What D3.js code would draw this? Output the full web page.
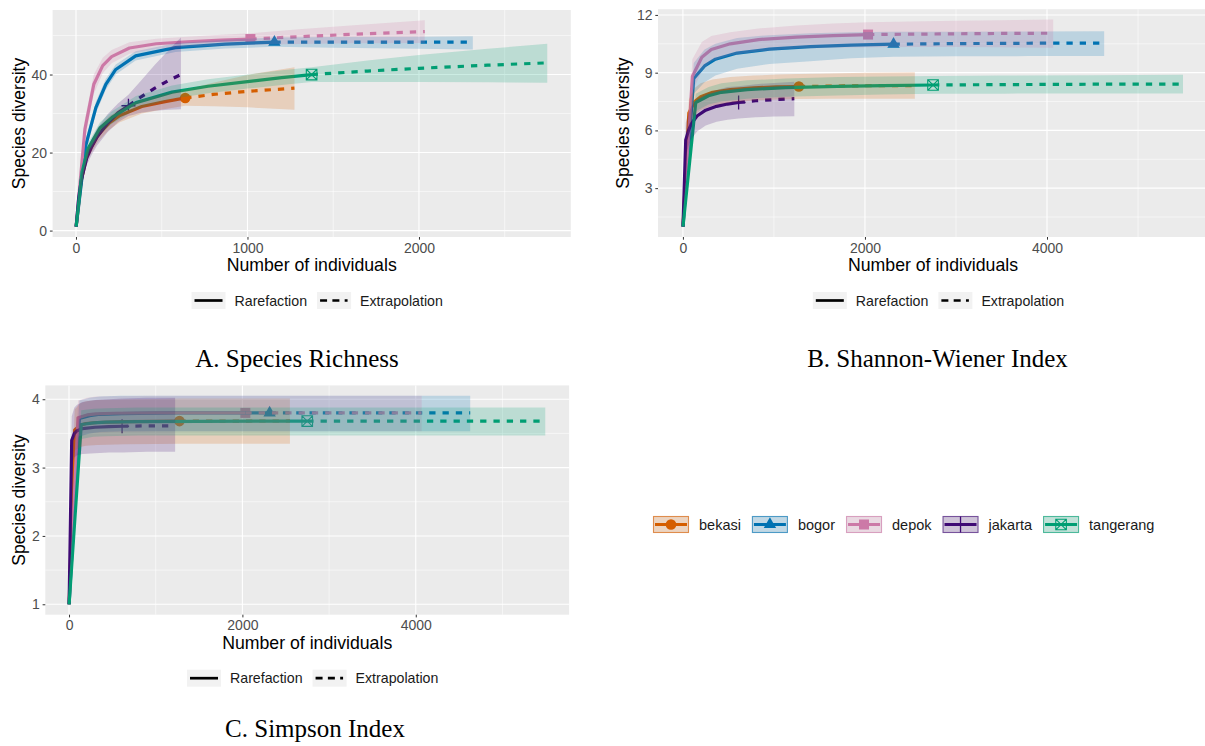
<!DOCTYPE html>
<html><head><meta charset="utf-8">
<script src="https://cdn.jsdelivr.net/npm/d3@7"></script>
<style>body{margin:0;background:#fff}svg{display:block}</style>
</head><body>
<svg id="c" width="1205" height="746"></svg>
<script>
// ---------------- DATA ----------------
const sites = ["bekasi", "bogor", "depok", "jakarta", "tangerang"];
const siteColors = ["#D55E00", "#0072B2", "#CC79A7", "#3F0A75", "#009E73"];
const siteShapes = ["circle", "triangle", "square", "plus", "squarecross"];
const lineTypes = ["Rarefaction", "Extrapolation"];
const panelTitles = ["A. Species Richness", "B. Shannon-Wiener Index", "C. Simpson Index"];
const xAxisTitle = "Number of individuals";
const yAxisTitle = "Species diversity";

// observed sample sizes (reference sample) per panel
const sizeA = [637, 1157, 1017, 306, 1374];
const sizeBC = [1274, 2314, 2034, 612, 2748];

// tick values
const ticksXA = [0, 1000, 2000], minorXA = [500, 1500, 2500];
const ticksYA = [0, 20, 40], minorYA = [10, 30, 50];
const ticksXB = [0, 2000, 4000], minorXB = [1000, 3000, 5000];
const ticksYB = [3, 6, 9, 12], minorYB = [1.5, 4.5, 7.5, 10.5];
const ticksXC = [0, 2000, 4000], minorXC = [1000, 3000, 5000];
const ticksYC = [1, 2, 3, 4], minorYC = [1.5, 2.5, 3.5];

// rows: [m, qD, lower CI, upper CI]
// Panel A: species richness (q = 0)
const richBekasi = [[1,1,1,1],[32,13,11.8,14.2],[64,19.5,18,21],[128,24.5,22.8,26.2],[192,27.5,25.8,29.2],[256,29.5,27.8,31.2],[384,31.8,30,33.6],[512,33,31.1,34.9],[637,34,32,36.1],[800,34.9,31.9,37.9],[1000,35.7,31.6,39.9],[1274,36.5,31,41.9]];
const richBogor = [[1,1,1,1],[58,22,20.3,23.7],[116,31.5,30,33],[174,37.5,36.1,38.9],[232,41.3,40,42.6],[348,44.8,43.6,46],[580,46.9,45.8,48],[870,47.8,46.7,48.9],[1157,48.3,47.1,49.5],[1500,48.3,46.9,49.6],[2000,48.3,46.6,49.7],[2314,48.3,46.4,49.8]];
const richDepok = [[1,1,1,1],[52,26,23.5,28.5],[104,37.5,35,40],[156,42.3,40.3,44.3],[208,44.6,42.9,46.3],[312,46.8,45.3,48.3],[468,47.9,46.6,49.2],[650,48.4,47.1,49.7],[850,48.8,47.4,50.2],[1017,49.1,47.6,50.6],[1300,49.7,47.8,51.6],[1600,50.3,48,52.6],[2034,51,48.1,53.9]];
const richJakarta = [[1,1,1,1],[16,8.5,7.3,9.7],[31,13,11.5,14.5],[62,18.5,16.7,20.3],[92,21.5,19.5,23.5],[123,24,21.8,26.2],[184,27.5,25.2,29.8],[245,30.2,27.8,32.6],[306,32,29.4,34.8],[380,34.3,30.2,38.5],[460,36.5,30.7,42.5],[540,38.5,31,46.2],[612,40,31.1,49.5]];
const richTangerang = [[1,1,1,1],[35,15,13.8,16.2],[70,21,19.6,22.4],[140,26.3,24.8,27.8],[210,29,27.4,30.6],[350,32.8,31.1,34.5],[560,35.5,33.8,37.2],[770,37,35.2,38.8],[1000,38.2,36.4,40],[1200,39.2,37.3,41.1],[1374,40,38.1,41.9],[1700,40.9,38.1,43.6],[2000,41.6,38.1,45],[2400,42.4,38,46.6],[2748,43,37.9,47.9]];

// Panel B: Shannon-Wiener (q = 1)
const shanBekasi = [[1,1,1,1],[65,6.9,6.2,7.6],[130,7.5,6.8,8.2],[195,7.75,7.05,8.45],[325,7.98,7.3,8.65],[520,8.12,7.45,8.78],[780,8.21,7.55,8.85],[1030,8.26,7.6,8.9],[1274,8.28,7.63,8.93],[1600,8.3,7.64,8.96],[2000,8.32,7.65,9.0],[2548,8.33,7.65,9.02]];
const shanBogor = [[1,1,1,1],[119,8.7,7.9,9.5],[238,9.35,8.5,10.2],[357,9.7,8.85,10.5],[595,10.02,9.2,10.8],[950,10.22,9.45,10.95],[1400,10.35,9.6,11.05],[1850,10.43,9.75,11.1],[2314,10.48,9.83,11.12],[3000,10.51,9.85,11.13],[3800,10.53,9.86,11.14],[4628,10.54,9.86,11.15]];
const shanDepok = [[1,1,1,1],[104,8.8,8.0,9.7],[208,9.8,9.1,10.6],[312,10.2,9.6,10.9],[520,10.5,9.9,11.1],[830,10.72,10.1,11.3],[1250,10.85,10.25,11.45],[1650,10.93,10.3,11.55],[2034,10.98,10.32,11.62],[2500,11.0,10.33,11.66],[3000,11.02,10.33,11.7],[3500,11.04,10.32,11.73],[4068,11.05,10.3,11.76]];
const shanJakarta = [[1,1,1,1],[31,5.5,4.6,6.4],[62,6.0,5.2,6.9],[93,6.35,5.55,7.25],[155,6.75,5.95,7.65],[250,7.05,6.25,7.9],[370,7.25,6.45,8.1],[490,7.37,6.55,8.25],[612,7.45,6.62,8.3],[800,7.54,6.68,8.4],[1000,7.6,6.72,8.47],[1224,7.65,6.74,8.53]];
const shanTangerang = [[1,1,1,1],[141,7.45,7.0,7.9],[282,7.8,7.35,8.25],[423,7.98,7.5,8.45],[705,8.12,7.65,8.6],[1130,8.22,7.75,8.7],[1700,8.29,7.82,8.77],[2200,8.33,7.87,8.8],[2748,8.36,7.9,8.83],[3500,8.38,7.91,8.85],[4500,8.4,7.92,8.87],[5494,8.41,7.92,8.89]];

// Panel C: Simpson (q = 2)
const simpBekasi = [[1,1,1,1],[65,3.55,3.25,3.85],[130,3.62,3.3,3.94],[195,3.645,3.32,3.97],[325,3.66,3.33,3.99],[650,3.672,3.34,4.0],[1000,3.677,3.345,4.005],[1274,3.68,3.35,4.01],[1900,3.681,3.35,4.01],[2548,3.682,3.35,4.01]];
const simpBogor = [[1,1,1,1],[119,3.72,3.45,3.98],[238,3.76,3.5,4.02],[357,3.78,3.52,4.04],[600,3.79,3.53,4.05],[1200,3.8,3.53,4.05],[2314,3.8,3.53,4.05],[3500,3.8,3.53,4.05],[4628,3.8,3.53,4.05]];
const simpDepok = [[1,1,1,1],[104,3.73,3.45,3.98],[208,3.77,3.5,4.02],[312,3.785,3.51,4.04],[520,3.795,3.52,4.045],[1000,3.8,3.53,4.05],[2034,3.8,3.53,4.05],[3000,3.8,3.53,4.05],[4068,3.8,3.53,4.05]];
const simpJakarta = [[1,1,1,1],[31,3.4,3.05,3.75],[62,3.5,3.15,3.88],[93,3.54,3.18,3.92],[155,3.57,3.2,3.96],[300,3.59,3.21,3.99],[460,3.6,3.22,4.0],[612,3.605,3.22,4.01],[900,3.61,3.23,4.02],[1224,3.612,3.23,4.02]];
const simpTangerang = [[1,1,1,1],[141,3.63,3.42,3.84],[282,3.655,3.45,3.86],[423,3.665,3.46,3.87],[800,3.672,3.47,3.88],[1500,3.677,3.47,3.88],[2748,3.68,3.47,3.88],[4000,3.68,3.47,3.88],[5494,3.68,3.47,3.88]];

// ---------------- LAYOUT ----------------
const SANS = "'Liberation Sans', Arial, Helvetica, sans-serif";
const SERIF = "'Liberation Serif', 'Times New Roman', serif";

const panels = [
  {id: "A", data: [richBekasi, richBogor, richDepok, richJakarta, richTangerang], sizes: sizeA,
   box: {x0: 52.6, x1: 570.8, y0: 10, y1: 237}, xt: ticksXA, xm: minorXA, yt: ticksYA, ym: minorYA,
   yTitleX: 19, title: panelTitles[0], titleX: 297, titleY: 367},
  {id: "B", data: [shanBekasi, shanBogor, shanDepok, shanJakarta, shanTangerang], sizes: sizeBC,
   box: {x0: 658, x1: 1208, y0: 9.2, y1: 237}, xt: ticksXB, xm: minorXB, yt: ticksYB, ym: minorYB,
   yTitleX: 623, title: panelTitles[1], titleX: 937.5, titleY: 367},
  {id: "C", data: [simpBekasi, simpBogor, simpDepok, simpJakarta, simpTangerang], sizes: sizeBC,
   box: {x0: 45.3, x1: 569.1, y0: 385.4, y1: 614.7}, xt: ticksXC, xm: minorXC, yt: ticksYC, ym: minorYC,
   yTitleX: 19, title: panelTitles[2], titleX: 315, titleY: 737}
];

const svg = d3.select("#c");
const defs = svg.append("defs");

function expand(ext) { const s = ext[1] - ext[0]; return [ext[0] - 0.05 * s, ext[1] + 0.05 * s]; }

function drawShape(g, shape, cx, cy, color, big) {
  if (shape === "circle") {
    g.append("circle").attr("cx", cx).attr("cy", cy).attr("r", 5.3).attr("fill", color);
  } else if (shape === "triangle") {
    const s = 12.4, h = s * Math.sqrt(3) / 2;
    g.append("path").attr("d", `M${cx},${cy - h * 2 / 3}L${cx + s / 2},${cy + h / 3}L${cx - s / 2},${cy + h / 3}Z`).attr("fill", color);
  } else if (shape === "square") {
    g.append("rect").attr("x", cx - 5).attr("y", cy - 5).attr("width", 10).attr("height", 10).attr("fill", color);
  } else if (shape === "plus") {
    const a = big ? 8 : 7;
    g.append("path").attr("d", `M${cx - a},${cy}H${cx + a}M${cx},${cy - a}V${cy + a}`)
      .attr("stroke", color).attr("stroke-width", 1.3).attr("fill", "none");
  } else if (shape === "squarecross") {
    const a = 5.3;
    g.append("path").attr("d", `M${cx - a},${cy - a}H${cx + a}V${cy + a}H${cx - a}ZM${cx - a},${cy - a}L${cx + a},${cy + a}M${cx + a},${cy - a}L${cx - a},${cy + a}`)
      .attr("stroke", color).attr("stroke-width", 1.1).attr("fill", "none");
  }
}

panels.forEach(p => {
  const all = p.data.flat();
  const x = d3.scaleLinear().domain(expand(d3.extent(all, d => d[0]))).range([p.box.x0, p.box.x1]);
  const y = d3.scaleLinear().domain(expand([d3.min(all, d => d[2]), d3.max(all, d => d[3])])).range([p.box.y1, p.box.y0]);
  const g = svg.append("g");
  const W = p.box.x1 - p.box.x0, H = p.box.y1 - p.box.y0;

  defs.append("clipPath").attr("id", "clip" + p.id).append("rect")
    .attr("x", p.box.x0).attr("y", p.box.y0).attr("width", W).attr("height", H);

  g.append("rect").attr("x", p.box.x0).attr("y", p.box.y0).attr("width", W).attr("height", H).attr("fill", "#EBEBEB");
  // minor grid
  g.selectAll(null).data(p.xm).join("line").attr("x1", d => x(d)).attr("x2", d => x(d)).attr("y1", p.box.y0).attr("y2", p.box.y1).attr("stroke", "#fff").attr("stroke-width", 0.55);
  g.selectAll(null).data(p.ym).join("line").attr("y1", d => y(d)).attr("y2", d => y(d)).attr("x1", p.box.x0).attr("x2", p.box.x1).attr("stroke", "#fff").attr("stroke-width", 0.55);
  // major grid
  g.selectAll(null).data(p.xt).join("line").attr("x1", d => x(d)).attr("x2", d => x(d)).attr("y1", p.box.y0).attr("y2", p.box.y1).attr("stroke", "#fff").attr("stroke-width", 1.1);
  g.selectAll(null).data(p.yt).join("line").attr("y1", d => y(d)).attr("y2", d => y(d)).attr("x1", p.box.x0).attr("x2", p.box.x1).attr("stroke", "#fff").attr("stroke-width", 1.1);

  const plot = g.append("g").attr("clip-path", `url(#clip${p.id})`);
  // points (drawn first, as in ggiNEXT)
  p.data.forEach((rows, i) => {
    const r = rows.find(d => d[0] === p.sizes[i]);
    drawShape(plot, siteShapes[i], x(r[0]), y(r[1]), siteColors[i], false);
  });
  // lines
  const line = d3.line().x(d => x(d[0])).y(d => y(d[1]));
  p.data.forEach((rows, i) => {
    const n = p.sizes[i];
    plot.append("path").attr("d", line(rows.filter(d => d[0] <= n))).attr("fill", "none")
      .attr("stroke", siteColors[i]).attr("stroke-width", 3.2).attr("stroke-linejoin", "round");
    plot.append("path").attr("d", line(rows.filter(d => d[0] >= n))).attr("fill", "none")
      .attr("stroke", siteColors[i]).attr("stroke-width", 3.2).attr("stroke-dasharray", "6.3,7");
  });
  // ribbons (on top, alpha 0.2)
  const area = d3.area().x(d => x(d[0])).y0(d => y(d[2])).y1(d => y(d[3]));
  p.data.forEach((rows, i) => {
    plot.append("path").attr("d", area(rows)).attr("fill", siteColors[i]).attr("fill-opacity", 0.2);
  });

  // axes
  const xa = g.append("g").attr("transform", `translate(0,${p.box.y1})`)
    .call(d3.axisBottom(x).tickValues(p.xt).tickSize(2.7).tickPadding(3).tickFormat(d3.format("d")));
  const ya = g.append("g").attr("transform", `translate(${p.box.x0},0)`)
    .call(d3.axisLeft(y).tickValues(p.yt).tickSize(2.7).tickPadding(2.8).tickFormat(d3.format("d")));
  [xa, ya].forEach(a => {
    a.select(".domain").remove();
    a.attr("font-size", 14).attr("font-family", SANS);
    a.selectAll(".tick line").attr("stroke", "#333").attr("stroke-width", 1);
    a.selectAll(".tick text").attr("fill", "#4D4D4D");
  });

  // axis titles
  g.append("text").attr("x", (p.box.x0 + p.box.x1) / 2).attr("y", p.box.y1 + 34)
    .attr("text-anchor", "middle").attr("font-family", SANS).attr("font-size", 17.7).attr("fill", "#000").text(xAxisTitle);
  g.append("text").attr("transform", `translate(${p.yTitleX + 6},${(p.box.y0 + p.box.y1) / 2}) rotate(-90)`)
    .attr("text-anchor", "middle").attr("font-family", SANS).attr("font-size", 17.5).attr("fill", "#000").text(yAxisTitle);

  // linetype legend
  const lg = g.append("g").attr("font-family", SANS).attr("font-size", 14.2).attr("fill", "#1A1A1A");
  const ky = p.box.y1 + 55;
  const t1 = lg.append("text").text(lineTypes[0]);
  const t2 = lg.append("text").text(lineTypes[1]);
  const w1 = t1.node().getComputedTextLength(), w2 = t2.node().getComputedTextLength();
  const total = 34 + 9 + w1 + 10 + 34 + 9 + w2;
  let lx = (p.box.x0 + p.box.x1) / 2 + 5.5 - total / 2;
  [0, 1].forEach(k => {
    lg.append("rect").attr("x", lx).attr("y", ky).attr("width", 34).attr("height", 17).attr("fill", "#F2F2F2");
    const ln = lg.append("line").attr("x1", lx + 3).attr("x2", lx + (k ? 30.5 : 31)).attr("y1", ky + 8.5).attr("y2", ky + 8.5)
      .attr("stroke", "#000").attr("stroke-width", 2.7);
    if (k) ln.attr("stroke-dasharray", "7,5.3");
    const t = k ? t2 : t1;
    t.attr("x", lx + 43).attr("y", ky + 13.5);
    lx += 43 + (k ? w2 : w1) + 10;
  });

  // panel caption
  svg.append("text").attr("x", p.titleX).attr("y", p.titleY).attr("text-anchor", "middle")
    .attr("font-family", SERIF).attr("font-size", 25).attr("fill", "#000").text(p.title);
});

// site legend
const sl = svg.append("g").attr("font-family", SANS).attr("font-size", 14.5).attr("fill", "#1A1A1A");
let sx = 653; const sy = 516;
sites.forEach((s, i) => {
  const c = siteColors[i];
  sl.append("rect").attr("x", sx).attr("y", sy).attr("width", 36).attr("height", 17).attr("fill", "#F2F2F2");
  sl.append("rect").attr("x", sx + 0.5).attr("y", sy + 0.5).attr("width", 35).attr("height", 16)
    .attr("fill", c).attr("fill-opacity", 0.2).attr("stroke", c).attr("stroke-opacity", 0.65).attr("stroke-width", 1.1);
  sl.append("line").attr("x1", sx + 2).attr("x2", sx + 34).attr("y1", sy + 8.5).attr("y2", sy + 8.5)
    .attr("stroke", c).attr("stroke-width", 3);
  drawShape(sl, siteShapes[i], sx + 18, sy + 8.5, c, true);
  const t = sl.append("text").attr("x", sx + 46).attr("y", sy + 13.5).text(s);
  sx += 46 + t.node().getComputedTextLength() + 11;
});
</script>
</body></html>
